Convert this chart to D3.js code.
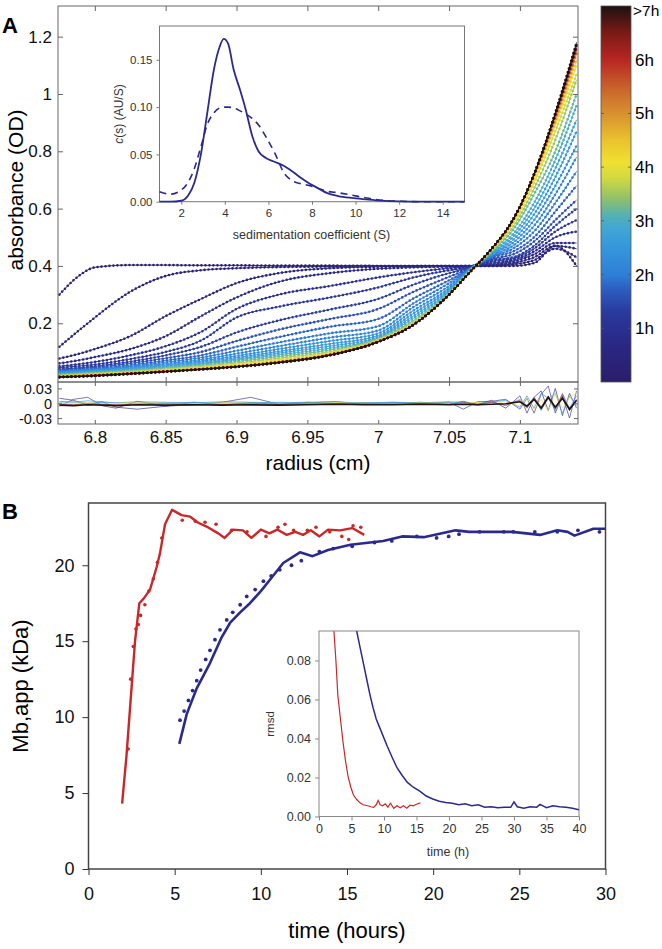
<!DOCTYPE html>
<html>
<head>
<meta charset="utf-8">
<script src="https://cdn.jsdelivr.net/npm/d3@7"></script>
<style>
  body { margin: 0; background: #fff; }
  svg { display: block; font-family: "Liberation Sans", Arial, sans-serif; }
</style>
</head>
<body>
<svg id="fig" width="662" height="949"></svg>
<script>
// ---------- panel A : scans ----------
const radiusKnots = [6.775, 6.79, 6.80, 6.825, 6.85, 6.875, 6.90, 6.93, 6.966, 7.00, 7.025, 7.05, 7.065, 7.08, 7.095, 7.11, 7.125, 7.14]
const scanHours = [0.15, 0.35, 0.55, 0.75, 0.95, 1.15, 1.35, 1.55, 1.75, 1.95, 2.15, 2.35, 2.55, 2.75, 2.95, 3.2, 3.5, 3.8, 4.1, 4.5, 5.0, 5.5, 6.0, 6.5, 7.0, 7.6]
const scanAbs = [
  [.30, .37, .395, .403, .403, .402, .402, .401, .401, .40, .40, .40, .40, .40, .40, .41, .47, .40],
  [.118, .18, .22, .31, .365, .385, .392, .396, .398, .40, .40, .40, .40, .40, .405, .42, .46, .43],
  [.077, .095, .11, .155, .225, .285, .34, .375, .392, .397, .399, .40, .40, .403, .41, .43, .47, .46],
  [.06, .072, .082, .11, .155, .225, .29, .345, .375, .39, .395, .398, .40, .405, .415, .44, .48, .48],
  [.05, .058, .065, .088, .12, .17, .25, .30, .33, .36, .378, .392, .398, .41, .42, .45, .50, .52],
  [.045, .051, .056, .075, .10, .14, .22, .258, .29, .325, .36, .385, .396, .415, .425, .46, .52, .56],
  [.04, .045, .05, .066, .088, .118, .168, .21, .248, .285, .335, .375, .394, .42, .43, .47, .54, .60],
  [.037, .042, .046, .06, .078, .10, .138, .178, .215, .25, .31, .362, .392, .425, .44, .485, .56, .63],
  [.034, .038, .042, .054, .07, .088, .118, .152, .188, .215, .287, .35, .39, .43, .45, .50, .59, .68],
  [.032, .036, .039, .05, .064, .08, .104, .133, .165, .19, .27, .34, .39, .432, .46, .52, .62, .73],
  [.03, .034, .037, .047, .059, .073, .094, .12, .15, .175, .257, .33, .39, .436, .47, .54, .65, .78],
  [.028, .032, .035, .044, .055, .068, .086, .11, .138, .165, .245, .322, .388, .44, .48, .56, .68, .82],
  [.026, .03, .033, .042, .052, .064, .08, .102, .128, .157, .235, .316, .387, .442, .49, .58, .71, .87],
  [.024, .028, .031, .04, .049, .06, .075, .096, .12, .152, .226, .311, .386, .445, .50, .60, .74, .91],
  [.022, .026, .029, .037, .046, .057, .071, .09, .113, .148, .218, .307, .385, .448, .51, .62, .77, .96],
  [.02, .024, .027, .034, .043, .053, .066, .084, .107, .145, .21, .304, .384, .45, .525, .65, .80, 1.0],
  [.018, .022, .025, .031, .04, .049, .061, .078, .101, .143, .205, .302, .383, .453, .535, .67, .84, 1.05],
  [.017, .02, .023, .029, .037, .046, .057, .073, .097, .141, .20, .301, .382, .455, .545, .69, .87, 1.07],
  [.016, .019, .021, .027, .035, .043, .053, .069, .094, .139, .198, .30, .381, .457, .55, .70, .89, 1.10],
  [.015, .018, .02, .026, .034, .042, .051, .067, .092, .138, .197, .30, .38, .458, .555, .71, .90, 1.12],
  [.014, .017, .019, .025, .033, .041, .05, .065, .091, .137, .196, .30, .38, .459, .558, .715, .91, 1.14],
  [.013, .016, .018, .025, .032, .040, .049, .064, .090, .136, .196, .30, .38, .46, .56, .718, .92, 1.15],
  [.013, .015, .018, .024, .032, .040, .049, .064, .090, .136, .195, .30, .38, .46, .56, .72, .925, 1.16],
  [.012, .015, .017, .024, .031, .039, .048, .063, .089, .135, .195, .30, .38, .46, .56, .72, .93, 1.17],
  [.012, .015, .017, .024, .031, .039, .048, .063, .089, .135, .195, .30, .38, .46, .56, .72, .93, 1.17],
  [.012, .014, .016, .023, .031, .039, .048, .062, .088, .135, .195, .30, .38, .46, .56, .72, .935, 1.18]
]

// residuals
const resRadius = [6.775, 6.785, 6.795, 6.805, 6.815, 6.83, 6.85, 6.87, 6.89, 6.91, 6.93, 6.95, 6.97, 6.99, 7.01, 7.03, 7.05, 7.06, 7.07, 7.08, 7.09, 7.10, 7.105, 7.11, 7.115, 7.12, 7.125, 7.13, 7.135, 7.14]
const resHours = [0.3, 1.0, 2.2, 2.9, 4.2, 6.0, 7.5]
const resValues = [
  [.010, .006, -.004, .003, -.008, -.012, -.006, .002, -.003, .001, -.002, .002, -.001, .001, 0, .002, -.002, .004, -.003, .006, -.010, .015, -.020, .012, .025, -.015, .030, -.025, .020, -.010],
  [-.006, .008, .012, -.005, -.010, .004, -.006, -.003, .002, .012, -.002, .001, .003, -.002, .001, -.001, .002, -.012, .003, .004, .008, -.012, .010, -.020, .018, .035, -.020, .015, -.030, .025],
  [.004, .002, .005, .003, .001, .003, .002, .001, .003, .002, .001, .002, .003, 0, .002, .001, .003, .002, -.004, .002, .006, -.008, .015, -.010, .020, .010, -.015, .020, -.010, .015],
  [.002, .003, 0, .002, .001, 0, .001, .002, 0, .001, .002, .001, 0, .001, .002, 0, .001, .002, 0, .003, -.005, .008, -.006, .012, -.015, .010, .020, -.020, .015, -.005],
  [-.001, 0, .001, -.001, 0, .001, 0, -.001, .001, 0, -.001, 0, .001, 0, -.001, .001, 0, -.001, .002, -.003, .004, -.006, .010, -.012, .008, -.015, .018, -.010, .012, .020],
  [-.002, -.003, -.001, -.002, -.003, -.002, -.001, -.002, -.003, -.001, -.002, -.001, -.002, -.001, -.002, -.001, -.002, .001, -.002, .002, -.004, .006, -.010, .012, -.008, .015, -.012, .018, -.015, .008],
  [-.004, -.005, -.003, -.004, -.005, -.003, -.004, -.003, -.004, -.003, -.004, -.003, -.002, -.003, -.003, -.002, -.003, -.002, -.003, -.002, -.001, .003, -.006, .008, -.010, .012, -.008, .010, -.012, .006]
]

// colour bar (hours -> colour)
const cmapHours = [0, 0.8, 1.3, 1.7, 2.0, 2.5, 2.85, 3.1, 3.4, 3.8, 4.1, 4.5, 5.0, 5.5, 6.0, 6.5, 7.0]
const cmapColors = ['#2a1d6b', '#2a2a88', '#2a3a9e', '#2c5bbd', '#2e7fd6', '#3596dc', '#41a6d6', '#54b0b4', '#8ebf6c', '#d2d940', '#efe030', '#eac22e', '#d8902f', '#c8602a', '#b82622', '#7a1a16', '#1d1211']
const cbarTicks = [1, 2, 3, 4, 5, 6, 7]
const cbarLabels = ['1h', '2h', '3h', '4h', '5h', '6h', '>7h']

// inset A : c(s)
const sedCoef = [1, 1.5, 2, 2.3, 2.6, 2.9, 3.2, 3.5, 3.75, 3.95, 4.15, 4.4, 4.7, 4.95, 5.25, 5.55, 5.9, 6.3, 6.7, 7.1, 7.5, 7.9, 8.3, 8.7, 9.2, 9.8, 10.5, 11.2, 12, 13, 15]
const csSolid = [0, 0, .001, .006, .02, .05, .095, .14, .163, .172, .167, .14, .118, .098, .07, .053, .046, .042, .038, .032, .025, .019, .014, .009, .006, .004, .0025, .0012, .0004, 0, 0]
const csDashed = [.0106, .008, .0124, .02, .035, .058, .082, .094, .099, .10, .10, .099, .096, .093, .088, .081, .068, .051, .031, .022, .019, .017, .014, .011, .0095, .007, .004, .0015, .0005, 0, 0]

// ---------- panel B ----------
const redLineT = [1.95, 2.2, 2.45, 2.7, 2.95, 3.2, 3.57, 3.96, 4.15, 4.44, 4.85, 5.4, 5.9, 6.37, 6.85, 7.53, 7.9, 8.38, 8.96, 9.45, 10.0, 10.5, 10.95, 11.5, 12.0, 12.45, 12.9, 13.4, 13.9, 14.6, 15.3, 16.0]
const redLineKDa = [4.3, 7.4, 11.2, 15.0, 17.5, 17.8, 18.4, 19.9, 20.8, 22.7, 23.65, 23.3, 23.2, 22.8, 22.55, 22.1, 21.8, 22.35, 22.3, 21.8, 22.35, 22.1, 22.35, 22.0, 22.2, 22.0, 22.3, 21.9, 22.35, 22.3, 22.45, 22.0]
const redDotT = [2.3, 2.45, 2.6, 2.75, 2.89, 3.02, 3.27, 3.5, 3.76, 4.0, 4.25, 5.44, 6.2, 6.76, 7.4, 8.3, 9.2, 10.3, 11.0, 11.4, 11.9, 12.7, 13.2, 14.0, 14.7, 15.1, 15.35, 15.8]
const redDotKDa = [7.9, 12.5, 14.65, 15.8, 16.1, 16.7, 17.4, 18.3, 19.1, 20.2, 21.8, 22.96, 22.9, 22.83, 22.7, 22.3, 22.2, 21.9, 22.5, 22.7, 22.3, 22.3, 22.5, 22.2, 21.9, 21.7, 22.6, 22.5]
const blueLineT = [5.27, 5.7, 6.28, 7.05, 7.7, 8.21, 8.8, 9.37, 10.0, 10.53, 11.3, 12.27, 13.0, 13.9, 15.2, 17.1, 18.2, 19.45, 21.3, 22.1, 24.6, 26.2, 27.2, 27.8, 28.2, 29.3, 30]
const blueLineKDa = [8.24, 10.2, 11.9, 13.56, 15.2, 16.2, 16.9, 17.5, 18.3, 19.05, 20.15, 20.85, 20.6, 21.0, 21.35, 21.6, 21.9, 21.85, 22.3, 22.2, 22.2, 22.0, 22.3, 22.2, 21.95, 22.4, 22.4]
const blueDotT = [5.31, 5.55, 5.8, 6.04, 6.28, 6.51, 6.8, 7.05, 7.34, 7.63, 8.02, 8.37, 8.8, 9.18, 9.67, 10.15, 10.6, 11.1, 11.78, 12.35, 13.4, 14.2, 15.3, 16.6, 17.6, 19.05, 20.2, 20.9, 21.5, 22.7, 24.1, 24.65, 25.9, 27.2, 28.4, 29.65]
const blueDotKDa = [9.8, 10.4, 11.1, 11.75, 12.4, 13.1, 13.8, 14.4, 15.1, 15.75, 16.4, 16.9, 17.4, 17.95, 18.4, 18.95, 19.3, 19.7, 20.0, 20.3, 20.9, 21.1, 21.25, 21.5, 21.6, 21.9, 21.8, 21.9, 22.05, 22.2, 22.2, 22.2, 22.2, 22.2, 22.3, 22.2]

// inset B : rmsd
const rmsdRedT = [2.3, 2.6, 2.9, 3.3, 3.7, 4.1, 4.5, 4.9, 5.3, 5.8, 6.3, 6.8, 7.5, 8.0, 8.4, 8.8, 9.1, 9.4, 9.8, 10.2, 10.6, 11.0, 11.5, 12, 12.5, 13, 13.5, 14, 14.5, 15, 15.6]
const rmsdRed = [.095, .08, .062, .05, .038, .028, .02, .015, .011, .0087, .007, .006, .0055, .005, .0047, .006, .0082, .006, .0055, .0065, .0048, .0068, .0042, .0055, .0045, .0055, .0043, .0058, .0055, .0063, .007]
const rmsdBlueT = [5.8, 6.3, 6.8, 7.3, 7.8, 8.3, 8.8, 9.7, 10.5, 11.3, 12, 12.8, 13.6, 14.5, 15.5, 16.5, 17.5, 18.5, 19.5, 20.5, 21.5, 22.5, 23.5, 24.5, 25.5, 26.5, 27.5, 28.5, 29.5, 30, 30.5, 31.5, 32.5, 33.5, 34, 35, 36, 37, 38, 39, 40]
const rmsdBlue = [.095, .087, .079, .071, .063, .056, .05, .0426, .036, .03, .025, .021, .0175, .015, .013, .0105, .009, .0078, .0072, .0068, .006, .0065, .0055, .006, .0048, .005, .0045, .0048, .0047, .0075, .005, .0042, .005, .0048, .0062, .0045, .0055, .005, .0048, .0042, .0035]

const svg = d3.select('#fig')
const defs = svg.append('defs')
const navy = '#2b2a8c'
const red = '#c9282a'

function styleAxis(g, size, colour) {
  g.select('.domain').remove()
  g.selectAll('.tick line').attr('stroke', colour || '#666')
  g.selectAll('.tick text').attr('font-size', size).attr('fill', '#111')
}

// ================= PANEL A =================
const x = d3.scaleLinear().domain([6.774, 7.141]).range([58, 578])
const y = d3.scaleLinear().domain([-0.005, 1.307]).range([382, 6])
const yRes = d3.scaleLinear().domain([-0.042, 0.043]).range([424, 382])
const hourColor = d3.scaleLinear().domain(cmapHours).range(cmapColors).clamp(true)

defs.append('clipPath').attr('id', 'clipA').append('rect').attr('x', 58).attr('y', 6).attr('width', 520).attr('height', 376)
defs.append('clipPath').attr('id', 'clipRes').append('rect').attr('x', 58).attr('y', 382).attr('width', 520).attr('height', 42)

const scanLine = d3.line().x((d, i) => x(radiusKnots[i])).y(d => y(d)).curve(d3.curveMonotoneX)
const gScans = svg.append('g').attr('clip-path', 'url(#clipA)')
scanAbs.forEach((row, i) => {
  const col = hourColor(scanHours[i])
  gScans.append('path').attr('d', scanLine(row))
    .attr('fill', 'none').attr('stroke', col).attr('stroke-width', 0.9)
  gScans.append('path').attr('d', scanLine(row))
    .attr('fill', 'none').attr('stroke', col).attr('stroke-width', 2.6)
    .attr('stroke-linecap', 'round').attr('stroke-dasharray', '0 4')
})

const resLine = d3.line().x((d, i) => x(resRadius[i])).y(d => yRes(d))
const gRes = svg.append('g').attr('clip-path', 'url(#clipRes)')
resValues.forEach((row, i) => {
  const last = i === resValues.length - 1
  gRes.append('path').attr('d', resLine(row)).attr('fill', 'none')
    .attr('stroke', hourColor(resHours[i]))
    .attr('stroke-width', last ? 1.7 : 0.8)
    .attr('opacity', last ? 1 : 0.8)
})

const radiusTicks = [6.8, 6.85, 6.9, 6.95, 7, 7.05, 7.1]
svg.append('g').attr('transform', 'translate(0,6)')
  .call(d3.axisTop(x).tickValues(radiusTicks).tickSize(-5).tickFormat(''))
  .call(g => styleAxis(g, 17))
svg.append('g').attr('transform', 'translate(0,382)')
  .call(d3.axisBottom(x).tickValues(radiusTicks).tickSize(-5).tickFormat(''))
  .call(g => styleAxis(g, 17))
svg.append('g').attr('transform', 'translate(0,382)')
  .call(d3.axisTop(x).tickValues(radiusTicks).tickSize(-4).tickFormat(''))
  .call(g => styleAxis(g, 17))
svg.append('g').attr('transform', 'translate(0,424)')
  .call(d3.axisBottom(x).tickValues(radiusTicks).tickSize(-4).tickPadding(7).tickFormat(d3.format('~g')))
  .call(g => styleAxis(g, 17))

const absTicks = [0.2, 0.4, 0.6, 0.8, 1, 1.2]
svg.append('g').attr('transform', 'translate(58,0)')
  .call(d3.axisLeft(y).tickValues(absTicks).tickSize(-5).tickPadding(6).tickFormat(d3.format('~g')))
  .call(g => styleAxis(g, 17))
svg.append('g').attr('transform', 'translate(578,0)')
  .call(d3.axisRight(y).tickValues(absTicks).tickSize(-5).tickFormat(''))
  .call(g => styleAxis(g, 17))
const resFmt = d => d === 0 ? '0' : (d < 0 ? '-' : '') + Math.abs(d).toFixed(2)
svg.append('g').attr('transform', 'translate(58,0)')
  .call(d3.axisLeft(yRes).tickValues([-0.03, 0, 0.03]).tickSize(-4).tickPadding(6).tickFormat(resFmt))
  .call(g => styleAxis(g, 14.5))
  .call(g => g.selectAll('.tick text').attr('dy', '0.34em'))
svg.append('g').attr('transform', 'translate(578,0)')
  .call(d3.axisRight(yRes).tickValues([-0.03, 0, 0.03]).tickSize(-4).tickFormat(''))
  .call(g => styleAxis(g, 17))

svg.append('rect').attr('x', 58).attr('y', 6).attr('width', 520).attr('height', 376)
  .attr('fill', 'none').attr('stroke', '#666').attr('stroke-width', 1)
svg.append('rect').attr('x', 58).attr('y', 382).attr('width', 520).attr('height', 42)
  .attr('fill', 'none').attr('stroke', '#666').attr('stroke-width', 1)

svg.append('text').attr('x', 318).attr('y', 470).attr('text-anchor', 'middle')
  .attr('font-size', 21).text('radius (cm)')
svg.append('text').attr('transform', 'translate(23,190) rotate(-90)').attr('text-anchor', 'middle')
  .attr('font-size', 21).text('absorbance (OD)')
svg.append('text').attr('x', 2).attr('y', 33).attr('font-size', 22).attr('font-weight', 'bold').text('A')

// colour bar
const cbY = d3.scaleLinear().domain([0, 7]).range([382, 6])
const grad = defs.append('linearGradient').attr('id', 'cbarGrad')
  .attr('x1', 0).attr('y1', 1).attr('x2', 0).attr('y2', 0)
cmapHours.forEach((h, i) => {
  grad.append('stop').attr('offset', h / 7).attr('stop-color', cmapColors[i])
})
svg.append('rect').attr('x', 601).attr('y', 6).attr('width', 30).attr('height', 376)
  .attr('fill', 'url(#cbarGrad)').attr('stroke', '#555').attr('stroke-width', 0.8)
cbarTicks.forEach((h, i) => {
  const ty = cbY(h)
  if (h < 7) {
    svg.append('line').attr('x1', 601).attr('x2', 604).attr('y1', ty).attr('y2', ty).attr('stroke', '#555').attr('stroke-width', 0.8)
    svg.append('line').attr('x1', 628).attr('x2', 631).attr('y1', ty).attr('y2', ty).attr('stroke', '#555').attr('stroke-width', 0.8)
  }
  svg.append('text').attr('x', h < 7 ? 635 : 633).attr('y', h < 7 ? ty + 6 : 16)
    .attr('font-size', h < 7 ? 17 : 15.5).text(cbarLabels[i])
})

// inset A
const ix = d3.scaleLinear().domain([1, 15]).range([159.5, 464.5])
const iy = d3.scaleLinear().domain([0, 0.1857]).range([201.7, 26])
svg.append('rect').attr('x', 159.5).attr('y', 26).attr('width', 305).attr('height', 175.7)
  .attr('fill', '#fff').attr('stroke', '#777').attr('stroke-width', 1)
const csLine = d3.line().x((d, i) => ix(sedCoef[i])).y(d => iy(d)).curve(d3.curveMonotoneX)
svg.append('path').attr('d', csLine(csDashed)).attr('fill', 'none').attr('stroke', navy)
  .attr('stroke-width', 1.6).attr('stroke-dasharray', '7,5')
svg.append('path').attr('d', csLine(csSolid)).attr('fill', 'none').attr('stroke', navy)
  .attr('stroke-width', 1.8)
svg.append('g').attr('transform', 'translate(0,201.7)')
  .call(d3.axisBottom(ix).tickValues([2, 4, 6, 8, 10, 12, 14]).tickSize(3).tickPadding(4))
  .call(g => styleAxis(g, 11.5, '#777'))
  .call(g => g.selectAll('.tick text').attr('fill', '#333'))
svg.append('g').attr('transform', 'translate(159.5,0)')
  .call(d3.axisLeft(iy).tickValues([0, 0.05, 0.1, 0.15]).tickSize(3).tickPadding(4).tickFormat(d3.format('.2f')))
  .call(g => styleAxis(g, 11.5, '#777'))
  .call(g => g.selectAll('.tick text').attr('fill', '#333'))
svg.append('text').attr('x', 311.5).attr('y', 239).attr('text-anchor', 'middle')
  .attr('font-size', 12.5).attr('fill', '#333').text('sedimentation coefficient (S)')
const csLabel = svg.append('text').attr('transform', 'translate(123,114) rotate(-90)')
  .attr('text-anchor', 'middle').attr('font-size', 12).attr('fill', '#333')
csLabel.append('tspan').attr('font-style', 'italic').text('c')
csLabel.append('tspan').text('(s) (AU/S)')

// ================= PANEL B =================
const bx = d3.scaleLinear().domain([0, 30]).range([88.5, 605.5])
const by = d3.scaleLinear().domain([0, 24.1]).range([869, 503])

svg.append('rect').attr('x', 88.5).attr('y', 503).attr('width', 517).attr('height', 366)
  .attr('fill', 'none').attr('stroke', '#444').attr('stroke-width', 1.5)

const bLine = d3.line().x(d => bx(d[0])).y(d => by(d[1]))
svg.append('path').attr('d', bLine(d3.zip(redLineT, redLineKDa))).attr('fill', 'none')
  .attr('stroke', red).attr('stroke-width', 2.4).attr('stroke-linejoin', 'round')
svg.append('path').attr('d', bLine(d3.zip(blueLineT, blueLineKDa))).attr('fill', 'none')
  .attr('stroke', navy).attr('stroke-width', 2.6).attr('stroke-linejoin', 'round')
svg.append('g').selectAll('circle').data(d3.zip(redDotT, redDotKDa)).join('circle')
  .attr('cx', d => bx(d[0])).attr('cy', d => by(d[1])).attr('r', 1.8).attr('fill', red)
svg.append('g').selectAll('circle').data(d3.zip(blueDotT, blueDotKDa)).join('circle')
  .attr('cx', d => bx(d[0])).attr('cy', d => by(d[1])).attr('r', 1.9).attr('fill', navy)

svg.append('g').attr('transform', 'translate(0,869)')
  .call(d3.axisBottom(bx).tickValues([0, 5, 10, 15, 20, 25, 30]).tickSize(6).tickPadding(12))
  .call(g => styleAxis(g, 18, '#333'))
svg.append('g').attr('transform', 'translate(88.5,0)')
  .call(d3.axisLeft(by).tickValues([0, 5, 10, 15, 20]).tickSize(6).tickPadding(8))
  .call(g => styleAxis(g, 18, '#333'))
svg.append('text').attr('x', 347).attr('y', 938).attr('text-anchor', 'middle')
  .attr('font-size', 22).text('time (hours)')
svg.append('text').attr('transform', 'translate(28,686) rotate(-90)').attr('text-anchor', 'middle')
  .attr('font-size', 22).text('Mb,app (kDa)')
svg.append('text').attr('x', 2).attr('y', 519).attr('font-size', 22).attr('font-weight', 'bold').text('B')

// inset B
const rx = d3.scaleLinear().domain([0, 40]).range([319, 579])
const ry = d3.scaleLinear().domain([0, 0.0951]).range([816.5, 631])
defs.append('clipPath').attr('id', 'clipB').append('rect').attr('x', 319).attr('y', 631).attr('width', 260).attr('height', 185.5)
svg.append('rect').attr('x', 319).attr('y', 631).attr('width', 260).attr('height', 185.5)
  .attr('fill', '#fff').attr('stroke', '#888').attr('stroke-width', 1)
const rLine = d3.line().x(d => rx(d[0])).y(d => ry(d[1]))
const gInB = svg.append('g').attr('clip-path', 'url(#clipB)')
gInB.append('path').attr('d', rLine(d3.zip(rmsdRedT, rmsdRed))).attr('fill', 'none')
  .attr('stroke', red).attr('stroke-width', 1.2)
gInB.append('path').attr('d', rLine(d3.zip(rmsdBlueT, rmsdBlue))).attr('fill', 'none')
  .attr('stroke', navy).attr('stroke-width', 1.5)
svg.append('g').attr('transform', 'translate(0,816.5)')
  .call(d3.axisBottom(rx).tickValues(d3.range(0, 41, 5)).tickSize(4).tickPadding(4))
  .call(g => styleAxis(g, 12.5, '#888'))
  .call(g => g.selectAll('.tick text').attr('fill', '#333'))
svg.append('g').attr('transform', 'translate(319,0)')
  .call(d3.axisLeft(ry).tickValues([0, 0.02, 0.04, 0.06, 0.08]).tickSize(4).tickPadding(4).tickFormat(d3.format('.2f')))
  .call(g => styleAxis(g, 12.5, '#888'))
  .call(g => g.selectAll('.tick text').attr('fill', '#333'))
svg.append('text').attr('x', 448).attr('y', 856).attr('text-anchor', 'middle')
  .attr('font-size', 12.5).attr('fill', '#333').text('time (h)')
svg.append('text').attr('transform', 'translate(274,724) rotate(-90)').attr('text-anchor', 'middle')
  .attr('font-size', 11.5).attr('fill', '#333').text('rmsd')
</script>
</body>
</html>
